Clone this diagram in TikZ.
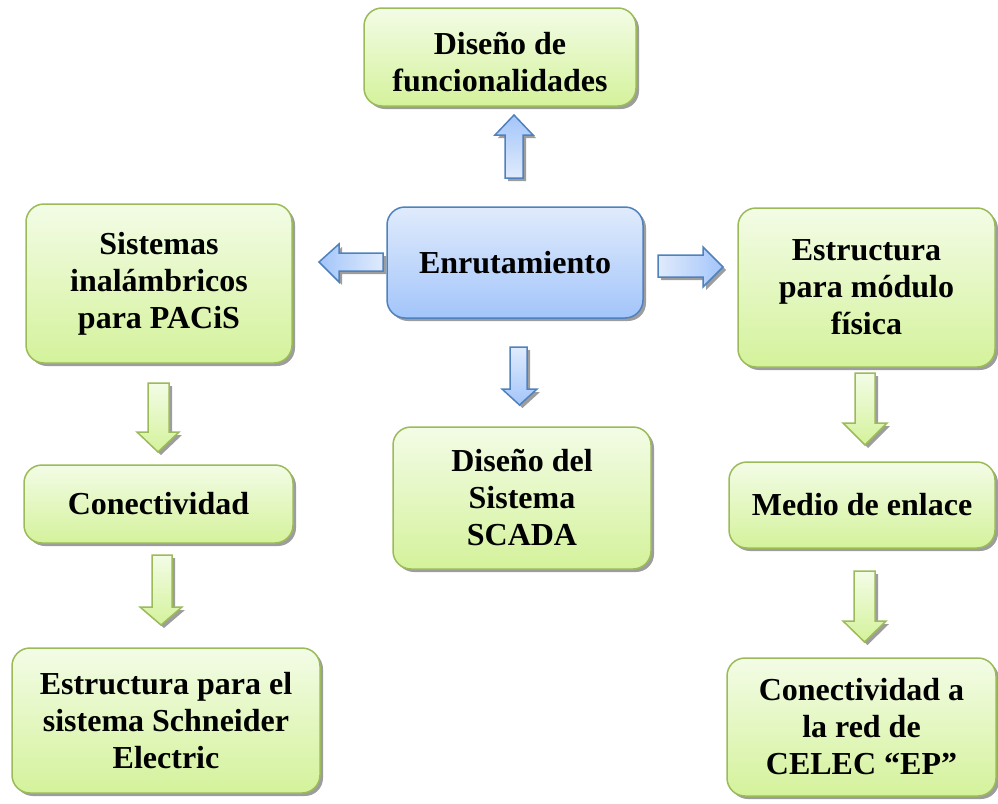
\documentclass[tikz,border=0pt]{standalone}
\usepackage{fontspec}
\setmainfont{Liberation Serif}
\usetikzlibrary{shadows}
\definecolor{gborder}{RGB}{155,187,89}
\definecolor{gtop}{RGB}{243,252,230}
\definecolor{gbot}{RGB}{212,242,155}
\definecolor{bborder}{RGB}{79,129,189}
\definecolor{btop}{RGB}{224,235,252}
\definecolor{bbot}{RGB}{163,197,250}
\definecolor{shad}{RGB}{140,140,140}
\tikzset{
  sh/.style={drop shadow={shadow xshift=3pt, shadow yshift=-3pt, fill=shad, opacity=0.85}},
  txt/.style={align=center, inner sep=0pt, font=\bfseries\fontsize{32}{37}\selectfont},
  gbox/.style={txt, draw=gborder, line width=1.5pt, rounded corners=18pt, top color=gtop, bottom color=gbot, sh},
  bbox/.style={gbox, draw=bborder, top color=btop, bottom color=bbot},
  blk/.style={line width=1.5pt, line join=miter, sh},
  garrow/.style={blk, draw=gborder, top color=gtop, bottom color=gbot},
  barrow/.style={blk, draw=bborder}
}
\begin{document}
\begin{tikzpicture}[x=1pt,y=-1pt]
\useasboundingbox (0,0) rectangle (998,803);
% boxes
\node[gbox, minimum width=272pt, minimum height=98pt] (top) at (500,57) {};
\node[txt] (toptext) at (500,62) {Diseño de\\funcionalidades};
\node[bbox, minimum width=256pt, minimum height=111pt] (enr) at (515,262.5) {Enrutamiento};
\node[gbox, minimum width=266pt, minimum height=159pt] (left) at (159,283.5) {Sistemas\\inalámbricos\\para PACiS};
\node[gbox, minimum width=257pt, minimum height=159pt] (right) at (866.5,287.5) {Estructura\\para módulo\\física};
\node[gbox, minimum width=269pt, minimum height=78pt] (con) at (158.5,504) {Conectividad};
\node[gbox, minimum width=258pt, minimum height=142pt] (scada) at (522,498) {Diseño del\\Sistema\\SCADA};
\node[gbox, minimum width=266pt, minimum height=86pt] (medio) at (862,505) {Medio de enlace};
\node[gbox, minimum width=308pt, minimum height=145pt] (est) at (166,720.5) {Estructura para el\\sistema Schneider\\Electric};
\node[gbox, minimum width=269pt, minimum height=138pt] (celec) at (861.5,727) {Conectividad a\\la red de\\CELEC “EP”};
% blue block arrows
\path[barrow, top color=bbot, bottom color=btop]
  (505,178) -- (523,178) -- (523,135) -- (533,135) -- (514,115) -- (495,135) -- (505,135) -- cycle;
\path[barrow, top color=btop, bottom color=bbot]
  (510,347) -- (527,347) -- (527,389) -- (537,389) -- (519.5,405) -- (502,389) -- (510,389) -- cycle;
\path[barrow, left color=bbot, right color=btop]
  (383,253) -- (383,271) -- (339,271) -- (339,282) -- (319,262) -- (339,244) -- (339,253) -- cycle;
\path[barrow, left color=btop, right color=bbot]
  (658,255) -- (658,277) -- (703,277) -- (703,287) -- (723,267) -- (703,247) -- (703,255) -- cycle;
% green block arrows
\path[garrow]
  (148,383) -- (169,383) -- (169,432) -- (179,432) -- (158,452) -- (137,432) -- (148,432) -- cycle;
\path[garrow]
  (152,555) -- (172,555) -- (172,607) -- (182,607) -- (161,625) -- (140,607) -- (152,607) -- cycle;
\path[garrow]
  (855,373) -- (875,373) -- (875,423) -- (887,423) -- (865,445) -- (843,423) -- (855,423) -- cycle;
\path[garrow]
  (854,571) -- (875,571) -- (875,621) -- (886,621) -- (864.5,642) -- (843,621) -- (854,621) -- cycle;
\end{tikzpicture}
\end{document}
